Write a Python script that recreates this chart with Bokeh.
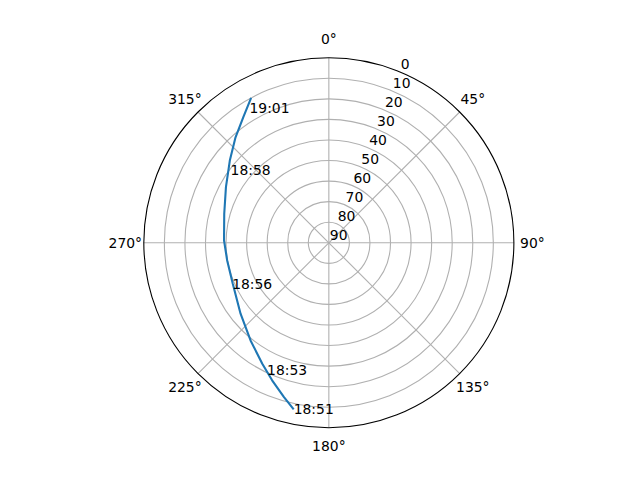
import numpy as np
from bokeh.plotting import figure
from bokeh.models import Range1d
from bokeh.core.properties import value
from bokeh.embed import file_html
from bokeh.resources import INLINE

# satellite track: azimuth (deg, clockwise from north) and elevation (deg)
track_az = [191.9, 196.2, 202.4, 208.8, 218.7, 231.2, 246.9, 260.1, 271.3,
            285.5, 298.4, 309.7, 318.5, 325.7, 331.8]
track_el = [7.1, 11.8, 17.6, 22.8, 29.1, 34.9, 39.2, 39.8, 39.0,
            37.2, 33.1, 27.4, 21.5, 16.1, 10.0]

# time labels along the track
time_labels = ["18:51", "18:53", "18:56", "18:58", "19:01"]
time_az = [191.9, 205.8, 246.7, 306.7, 329.6]
time_el = [7.1, 21.0, 38.8, 30.4, 13.7]

# axis ticks
theta_ticks = [0, 45, 90, 135, 180, 225, 270, 315]
r_ticks = [0, 10, 20, 30, 40, 50, 60, 70, 80, 90]

FONT = value("DejaVu Sans")
FS = "13.9px"
RMAX = 90.0


def to_xy(az, el):
    az = np.radians(np.asarray(az, dtype=float))
    r = RMAX - np.asarray(el, dtype=float)
    return r * np.sin(az), r * np.cos(az)


p = figure(width=624, height=464, output_backend="svg", toolbar_location=None,
           x_range=Range1d(-159.7, 143.8), y_range=Range1d(-107.9, 117.9),
           min_border=0, x_axis_location=None, y_axis_location=None)
p.outline_line_color = None
p.xgrid.visible = False
p.ygrid.visible = False

grid_col = "#b0b0b0"
# rings
for rv in r_ticks[1:-1]:
    p.circle(x=[0], y=[0], radius=RMAX - rv, fill_color=None,
             line_color=grid_col, line_width=1.1)
# radial lines
tx, ty = to_xy(theta_ticks, [0] * len(theta_ticks))
p.segment(x0=[0] * len(tx), y0=[0] * len(ty), x1=tx, y1=ty,
          line_color=grid_col, line_width=1.1)
# outer spine
p.circle(x=[0], y=[0], radius=RMAX, fill_color=None, line_color="black",
         line_width=1.1)

# theta labels
lx, ly = to_xy(theta_ticks, [RMAX - 99.0] * len(theta_ticks))
p.text(x=lx, y=ly, text=[f"{t}°" for t in theta_ticks], text_align="center",
       text_baseline="middle", text_font=FONT, text_font_size=FS,
       text_color="black")

# radial labels along 22.5°
rx, ry = to_xy([22.5] * len(r_ticks), r_ticks)
p.text(x=rx, y=ry, text=[str(v) for v in r_ticks], text_align="left",
       text_baseline="bottom", text_font=FONT, text_font_size=FS,
       text_color="black", x_offset=1, y_offset=-3)

# track
x, y = to_xy(track_az, track_el)
p.line(x=x, y=y, line_color="#1f77b4", line_width=2.1)

# time labels
mx, my = to_xy(time_az, time_el)
p.text(x=mx, y=my, text=time_labels, text_align="left",
       text_baseline="alphabetic", text_font=FONT, text_font_size=FS,
       text_color="black")

open("out.html", "w").write(file_html(p, INLINE))
